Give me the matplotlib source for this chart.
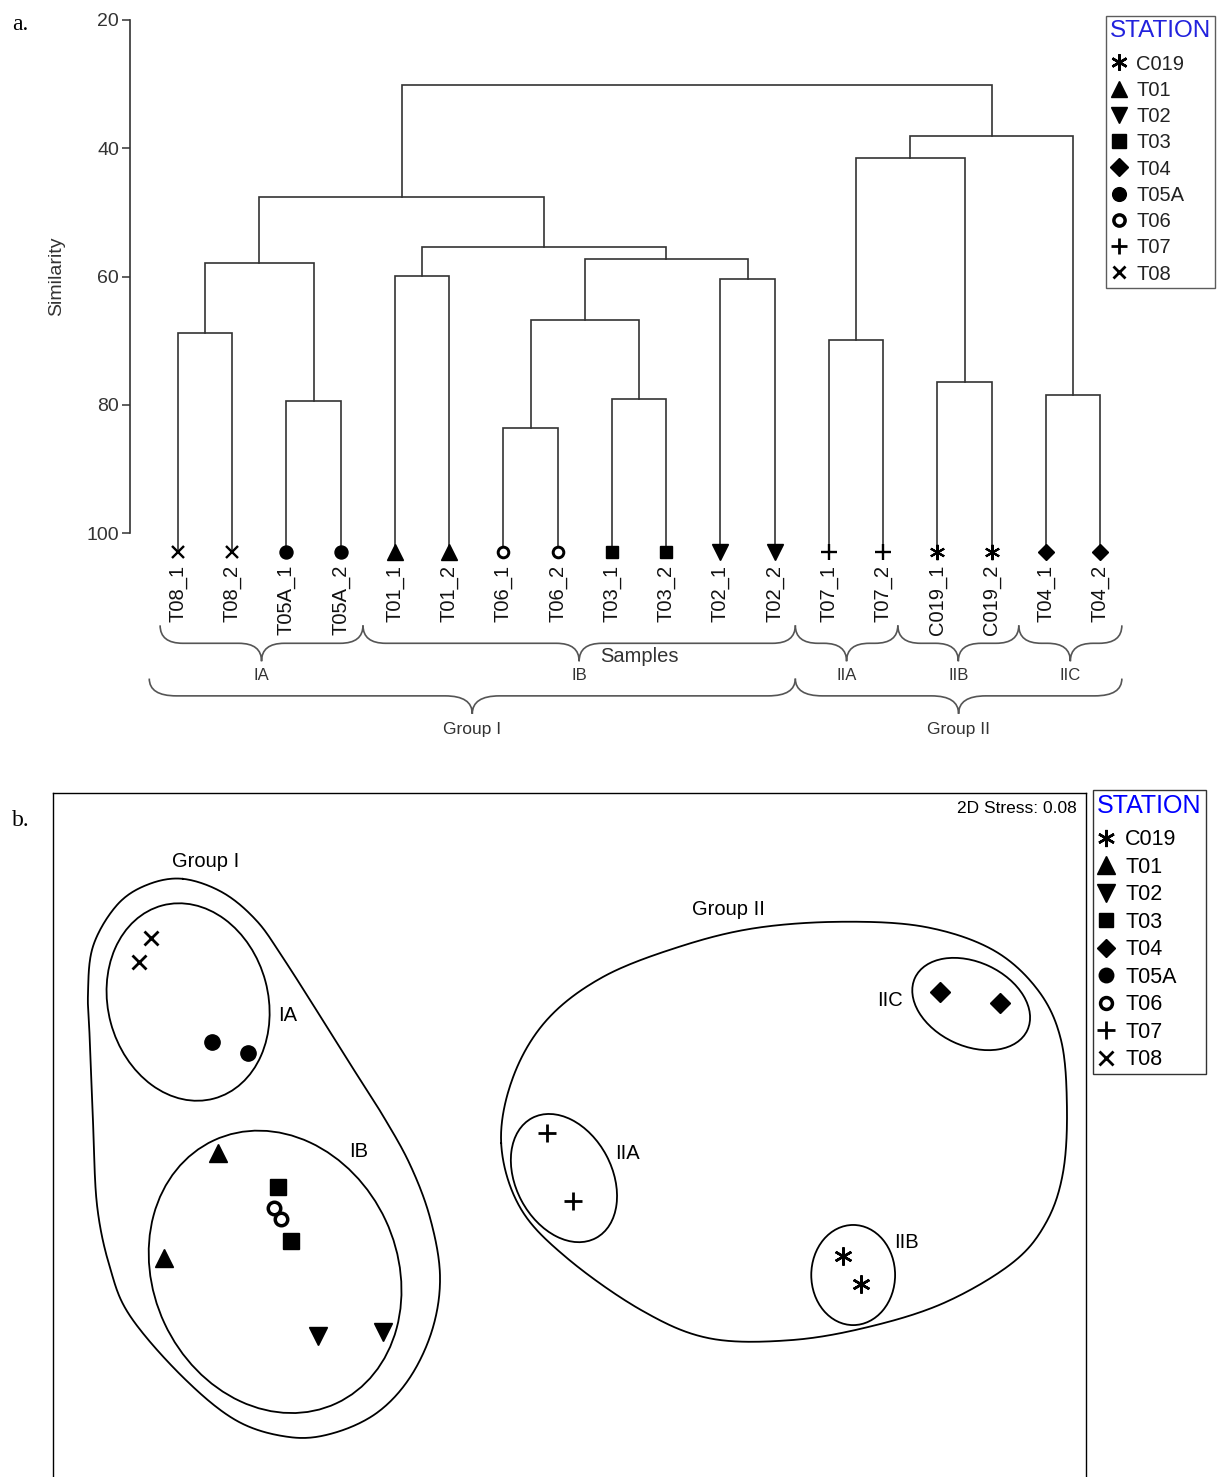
import numpy as np
import matplotlib
matplotlib.use("Agg")
import matplotlib.pyplot as plt
from matplotlib.path import Path
from matplotlib.patches import PathPatch, Ellipse
from matplotlib.lines import Line2D

plt.rcParams["font.family"] = ["Liberation Sans", "DejaVu Sans"]

# ---- data ----
stations = ["C019", "T01", "T02", "T03", "T04", "T05A", "T06", "T07", "T08"]

leaves = ["T08_1", "T08_2", "T05A_1", "T05A_2", "T01_1", "T01_2", "T06_1", "T06_2",
          "T03_1", "T03_2", "T02_1", "T02_2", "T07_1", "T07_2", "C019_1", "C019_2",
          "T04_1", "T04_2"]

# cluster merges: (left node, right node, similarity); new node ids start at 18
merge_left = [0, 2, 18, 4, 6, 8, 22, 10, 24, 21, 20, 12, 14, 29, 16, 31, 28]
merge_right = [1, 3, 19, 5, 7, 9, 23, 11, 25, 26, 27, 13, 15, 30, 17, 32, 33]
merge_sim = [68.8, 79.4, 57.9, 59.9, 83.6, 79.1, 66.8, 60.4, 57.3, 55.4, 47.6,
             69.9, 76.5, 41.5, 78.5, 38.1, 30.1]

# bracket groups under the dendrogram (spans in leaf units)
sub_groups = ["IA", "IB", "IIA", "IIB", "IIC"]
sub_span = [(-0.33, 3.41), (3.41, 11.38), (11.38, 13.27), (13.27, 15.5), (15.5, 17.4)]
main_groups = ["Group I", "Group II"]
main_span = [(-0.53, 11.38), (11.38, 17.4)]

# nMDS ordination
mds_station = ["T08", "T08", "T05A", "T05A", "T01", "T01", "T03", "T03", "T06", "T06",
               "T02", "T02", "T07", "T07", "C019", "C019", "T04", "T04"]
mds_x = [-1.053, -1.084, -0.900, -0.809, -0.885, -1.021, -0.734, -0.701, -0.744, -0.726,
         -0.633, -0.469, -0.057, 0.009, 0.688, 0.734, 0.932, 1.083]
mds_y = [0.483, 0.423, 0.221, 0.194, -0.058, -0.322, -0.143, -0.279, -0.196, -0.224,
         -0.518, -0.508, -0.008, -0.179, -0.317, -0.388, 0.347, 0.320]

styles = {
    "C019": dict(marker=(6, 2, 0), ms=13, mew=1.8),
    "T01": dict(marker="^", ms=13),
    "T02": dict(marker="v", ms=13),
    "T03": dict(marker="s", ms=11),
    "T04": dict(marker="D", ms=10),
    "T05A": dict(marker="o", ms=11),
    "T06": dict(marker="o", ms=9, mfc="white", mew=2.5),
    "T07": dict(marker="+", ms=13, mew=2),
    "T08": dict(marker="x", ms=10, mew=2),
}


def mark(ax, x, y, st, scale=1.0, **kw):
    s = dict(styles[st])
    s["ms"] = s["ms"] * scale
    if "mew" in s:
        s["mew"] = s["mew"] * scale
    ax.plot([x], [y], ls="none", color="black", **s, **kw)


def handles(scale=1.0):
    out = []
    for st in stations:
        s = dict(styles[st])
        s["ms"] = s["ms"] * scale
        out.append(Line2D([], [], ls="none", color="black", **s))
    return out


def smooth_closed(pts, n=24):
    # closed Catmull-Rom curve through the given points
    pts = np.asarray(pts, dtype=float)
    P = np.vstack([pts[-1], pts, pts[0], pts[1]])
    t = np.linspace(0, 1, n, endpoint=False)[:, None]
    seg = []
    for i in range(1, len(pts) + 1):
        p0, p1, p2, p3 = P[i - 1], P[i], P[i + 1], P[i + 2]
        seg.append(0.5 * (2 * p1 + (-p0 + p2) * t + (2 * p0 - 5 * p1 + 4 * p2 - p3) * t ** 2
                          + (-p0 + 3 * p1 - 3 * p2 + p3) * t ** 3))
    seg = np.vstack(seg)
    return np.vstack([seg, seg[:1]])


def brace(ax, x0, x1, y_end, y_line, y_tip, r=0.42, **kw):
    xm = (x0 + x1) / 2
    verts = [(x0, y_end), (x0, y_line), (x0 + r, y_line), (xm - r, y_line),
             (xm, y_line), (xm, y_tip), (xm, y_line), (xm + r, y_line),
             (x1 - r, y_line), (x1, y_line), (x1, y_end)]
    codes = [Path.MOVETO, Path.CURVE3, Path.CURVE3, Path.LINETO, Path.CURVE3, Path.CURVE3,
             Path.CURVE3, Path.CURVE3, Path.LINETO, Path.CURVE3, Path.CURVE3]
    ax.add_patch(PathPatch(Path(verts, codes), fill=False, clip_on=False, **kw))


def station_legend(anchor, scale, title_size, size, spacing, title_gap, edge, title_color,
                   text_color="black"):
    leg = fig.legend(handles(scale), stations, loc="upper left", bbox_to_anchor=anchor,
                     borderaxespad=0, title="STATION", title_fontsize=title_size,
                     fontsize=size, frameon=True, fancybox=False, edgecolor=edge,
                     labelspacing=spacing, handlelength=0.85, handletextpad=0.45,
                     borderpad=0.2, labelcolor=text_color)
    leg.get_title().set_color(title_color)
    leg.get_frame().set_linewidth(1.0)
    leg._legend_box.align = "left"
    leg._legend_box.sep = title_gap
    return leg


W, H = 1222, 1477
fig = plt.figure(figsize=(W / 100, H / 100), dpi=100)

# ---------------- a. dendrogram ----------------
ax1 = fig.add_axes([130 / W, 1 - 533 / H, 1000 / W, 513 / H])
ax1.set_xlim(-0.885, 17.55)
ax1.set_ylim(100, 20)
for sp in ["top", "right", "bottom"]:
    ax1.spines[sp].set_visible(False)
ax1.spines["left"].set_color("#333333")
ax1.spines["left"].set_linewidth(1.2)
ax1.set_xticks([])
ax1.set_yticks([20, 40, 60, 80, 100])
ax1.tick_params(axis="y", length=6, width=1.1, color="#333333", labelsize=14,
                labelcolor="#333333", pad=2)
ax1.set_ylabel("Similarity", fontsize=14, color="#333333")
ax1.yaxis.set_label_coords(-0.065, 0.5)

leaf_y = 102.9
node_x = {i: float(i) for i in range(len(leaves))}
node_y = {i: leaf_y for i in range(len(leaves))}
lc = "#333333"
for k, (a, b, s) in enumerate(zip(merge_left, merge_right, merge_sim)):
    nid = len(leaves) + k
    ax1.plot([node_x[a], node_x[a], node_x[b], node_x[b]], [node_y[a], s, s, node_y[b]],
             color=lc, lw=1.2, clip_on=False, solid_joinstyle="miter")
    node_x[nid] = (node_x[a] + node_x[b]) / 2
    node_y[nid] = s

for i, name in enumerate(leaves):
    st = name.split("_")[0]
    mark(ax1, i, leaf_y, st, scale=0.85, clip_on=False, zorder=5)
    ax1.text(i, 105.0, name, rotation=90, ha="center", va="top", fontsize=14.5,
             color="#111111", clip_on=False)

bc = "#555555"
for name, (x0, x1) in zip(sub_groups, sub_span):
    brace(ax1, x0, x1, 114.4, 117.2, 120.0, color=bc, lw=1.2)
    ax1.text((x0 + x1) / 2, 122.2, name, ha="center", va="center", fontsize=12,
             color="#333333", clip_on=False)
for name, (x0, x1) in zip(main_groups, main_span):
    brace(ax1, x0, x1, 122.7, 125.4, 128.2, r=0.5, color=bc, lw=1.2)
    ax1.text((x0 + x1) / 2, 130.7, name, ha="center", va="center", fontsize=12.5,
             color="#333333", clip_on=False)
ax1.text(8.5, 119.2, "Samples", ha="center", va="center", fontsize=14.5,
         color="#333333", clip_on=False)

station_legend((1106 / W, 1 - 16 / H), 0.9, 17.5, 14.5, 0.36, 9, "#333333", "#2222dd",
               "#222222")

fig.text(12 / W, 1 - 25 / H, "a.", family="Liberation Serif", fontsize=17,
         va="center", ha="left")

# ---------------- b. nMDS ----------------
ax2 = fig.add_axes([53 / W, -15 / H, 1033 / W, 699 / H])
ax2.set_xlim(-1.3, 1.3)
ax2.set_ylim(-0.911, 0.848)
ax2.set_xticks([])
ax2.set_yticks([])
for sp in ax2.spines.values():
    sp.set_linewidth(1.0)

group1_outline = [(-0.973, 0.632), (-0.872, 0.597), (-0.787, 0.526), (-0.721, 0.433),
                  (-0.636, 0.300), (-0.552, 0.166), (-0.469, 0.035), (-0.401, -0.088),
                  (-0.351, -0.221), (-0.326, -0.365), (-0.344, -0.498), (-0.401, -0.622),
                  (-0.485, -0.712), (-0.595, -0.763), (-0.703, -0.773), (-0.837, -0.732),
                  (-0.973, -0.622), (-1.106, -0.468), (-1.157, -0.345), (-1.189, -0.191),
                  (-1.199, 0.013), (-1.207, 0.219), (-1.212, 0.342), (-1.199, 0.463),
                  (-1.139, 0.566), (-1.063, 0.617)]
group2_outline = [(-0.172, -0.033), (-0.142, 0.133), (-0.057, 0.277), (0.084, 0.385),
                  (0.276, 0.461), (0.467, 0.508), (0.686, 0.524), (0.895, 0.511),
                  (1.066, 0.453), (1.179, 0.352), (1.237, 0.227), (1.252, 0.058),
                  (1.242, -0.108), (1.199, -0.234), (1.114, -0.335), (0.943, -0.435),
                  (0.751, -0.496), (0.555, -0.529), (0.351, -0.524), (0.180, -0.453),
                  (-0.009, -0.320), (-0.125, -0.194)]
for outline in [group1_outline, group2_outline]:
    c = smooth_closed(outline)
    ax2.plot(c[:, 0], c[:, 1], color="black", lw=1.3)

# sub-cluster ellipses: centre, width, height, angle
sub_ellipses = {
    "IA": ((-0.960, 0.322), 0.403, 0.503, 15),
    "IB": ((-0.741, -0.357), 0.614, 0.730, 25),
    "IIA": ((-0.014, -0.121), 0.342, 0.242, -62),
    "IIB": ((0.714, -0.365), 0.211, 0.252, 0),
    "IIC": ((1.011, 0.317), 0.312, 0.211, -25),
}
for (cxy, w, h, ang) in sub_ellipses.values():
    ax2.add_patch(Ellipse(cxy, w, h, angle=ang, fill=False, ec="black", lw=1.3))

for x, y, st in zip(mds_x, mds_y, mds_station):
    mark(ax2, x, y, st, zorder=5)

mds_labels = [("Group I", -0.915, 0.675), ("IA", -0.709, 0.287), ("IB", -0.532, -0.055),
              ("Group II", 0.401, 0.554), ("IIC", 0.807, 0.327), ("IIA", 0.147, -0.060),
              ("IIB", 0.849, -0.282)]
for txt, x, y in mds_labels:
    ax2.text(x, y, txt, ha="center", va="center", fontsize=14.5)

ax2.text(0.991, 0.9785, "2D Stress: 0.08", transform=ax2.transAxes, ha="right",
         va="center", fontsize=12.5)

station_legend((1093 / W, 1 - 790 / H), 0.95, 18, 15.5, 0.3, 8, "black", "#0000ff")

fig.text(12 / W, 1 - 820 / H, "b.", family="Liberation Serif", fontsize=17,
         va="center", ha="left")

fig.savefig("out.png", dpi=100)
